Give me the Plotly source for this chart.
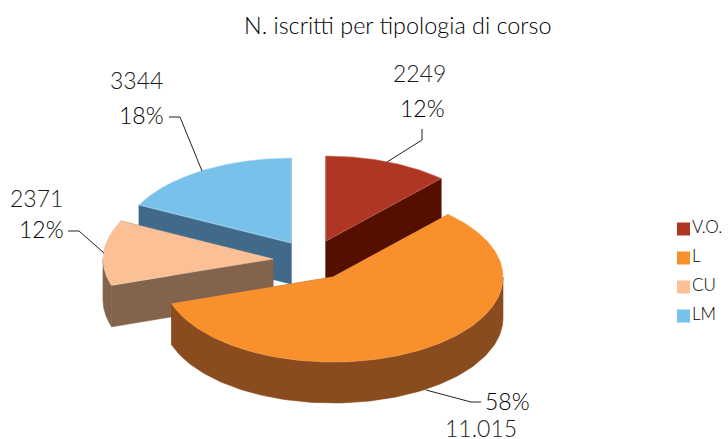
import numpy as np
import plotly.graph_objects as go

# --- data ---
categories = ["V.O.", "L", "CU", "LM"]
values = [2249, 11015, 2371, 3344]
value_labels = ["2249", "11.015", "2371", "3344"]
percent_labels = ["12%", "58%", "12%", "18%"]

# --- styles ---
top_colors = ["#AE3622", "#F8902B", "#FBC096", "#78C1EA"]
side_colors = ["#540F00", "#8A4C1F", "#83634C", "#41698A"]
edge_colors = ["#C9705F", "#F8A050", "#E8C8B0", "#B4DCF2"]
title = "N. iscritti per tipologia di corso"
FONT = "Lato"
WEIGHT = 300
W, H = 728, 439

# projection of the exploded 3-D pie on the page
RX, RY, DEPTH = 170, 85, 41
apex = [(326, 241), (333, 277), (273, 259), (291, 243)]
draw_order = [3, 0, 2, 1]

vals = np.array(values, dtype=float)
edges = np.concatenate([[0], np.cumsum(vals)]) / vals.sum() * 2 * np.pi

fig = go.Figure()


def poly(xs, ys, color, line=None):
    fig.add_trace(go.Scatter(
        x=list(xs), y=list(ys), mode="lines", fill="toself", fillcolor=color,
        line=dict(color=line or color, width=0.6), hoverinfo="skip", showlegend=False,
    ))


def proj(c, t):
    return c[0] + RX * np.sin(t), c[1] - RY * np.cos(t)


for i in draw_order:
    c = apex[i]
    a0, a1 = edges[i], edges[i + 1]
    # radial cut faces
    for a in (a0, a1):
        px, py = proj(c, a)
        poly([c[0], px, px, c[0], c[0]],
             [c[1], py, py + DEPTH, c[1] + DEPTH, c[1]], side_colors[i])
    # outer rim: only the part facing the viewer (90..270 degrees)
    lo, hi = max(a0, np.pi / 2), min(a1, 3 * np.pi / 2)
    if hi > lo:
        t = np.linspace(lo, hi, 120)
        x, y = proj(c, t)
        poly(np.r_[x, x[::-1], x[0]], np.r_[y, y[::-1] + DEPTH, y[0]], side_colors[i])
    # top face
    t = np.linspace(a0, a1, 200)
    x, y = proj(c, t)
    poly(np.r_[c[0], x, c[0]], np.r_[c[1], y, c[1]], top_colors[i], edge_colors[i])

# leader lines
leaders = [
    ([422, 422, 387], [129, 140, 162]),
    ([481, 471, 426], [402, 402, 390]),
    ([68, 79, 104], [231, 231, 253]),
    ([169, 180, 202], [117, 117, 171]),
]
for lx, ly in leaders:
    fig.add_trace(go.Scatter(x=lx, y=ly, mode="lines", line=dict(color="#222222", width=1),
                             hoverinfo="skip", showlegend=False))

# legend drawn as markers with real text
leg_y = [229, 258, 287, 316]
fig.add_trace(go.Scatter(
    x=[683.5] * 4, y=leg_y, mode="markers", showlegend=False, hoverinfo="skip",
    marker=dict(symbol="square", size=13, color=top_colors, line=dict(width=0)),
))
fig.add_trace(go.Scatter(
    x=[692] * 4, y=leg_y, mode="text", text=categories, textposition="middle right",
    textfont=dict(family=FONT, size=17, color="#000000", weight=WEIGHT), showlegend=False, hoverinfo="skip",
))

# value and percentage labels
val_pos = [(419, 73), (481, 428), (36, 198), (136, 80)]
pct_pos = [(422, 108), (507, 401), (41, 229), (141, 115)]
annotations = [dict(x=398, y=25, text=title, showarrow=False,
                    font=dict(family=FONT, size=23.4, color="#000000", weight=WEIGHT))]
for i in range(4):
    annotations.append(dict(x=val_pos[i][0], y=val_pos[i][1], text=value_labels[i], showarrow=False,
                            font=dict(family=FONT, size=23, color="#1a1a1a", weight=WEIGHT)))
    annotations.append(dict(x=pct_pos[i][0], y=pct_pos[i][1], text=percent_labels[i], showarrow=False,
                            font=dict(family=FONT, size=23, color="#000000", weight=WEIGHT)))

hidden = dict(visible=False, showgrid=False, zeroline=False, fixedrange=True)
fig.update_layout(
    width=W, height=H, autosize=False,
    margin=dict(l=0, r=0, t=0, b=0),
    paper_bgcolor="white", plot_bgcolor="white",
    xaxis=dict(range=[0, W], **hidden),
    yaxis=dict(range=[H, 0], **hidden),
    annotations=annotations,
)
fig.write_html("out.html", config=dict(displayModeBar=False),
               post_script="document.body.style.margin='0';document.body.style.overflow='hidden';window.dispatchEvent(new Event('resize'));")
